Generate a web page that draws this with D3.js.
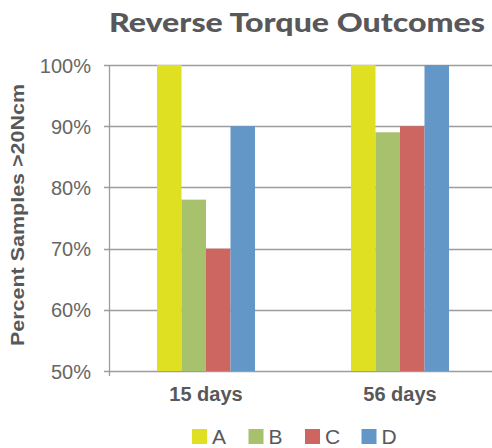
<!DOCTYPE html>
<html>
<head>
<meta charset="utf-8">
<style>
  body { margin: 0; background: #fff; }
  text { font-family: "Liberation Sans", Arial, sans-serif; }
</style>
</head>
<body>
<div id="chart"></div>
<script src="https://d3js.org/d3.v7.min.js"></script>
<script>
var groups = ["15 days", "56 days"];
var series = ["A", "B", "C", "D"];
var colors = ["#dfe022", "#a8c16c", "#cd6660", "#6297c8"];
var values = {
  "15 days": [100, 78, 70, 90],
  "56 days": [100, 89, 90, 100]
};
var yTicks = [50, 60, 70, 80, 90, 100];

var W = 492, H = 448;
var plotLeft = 109, plotRight = 497, plotTop = 65, plotBottom = 371;

var svg = d3.select("#chart").append("svg")
    .attr("width", W)
    .attr("height", H);

var x0 = d3.scaleBand().domain(groups).range([plotLeft, plotRight]).padding(0);
var x1 = d3.scaleBand().domain(series).range([0, x0.bandwidth()])
    .paddingInner(0).paddingOuter(1.96);
var y = d3.scaleLinear().domain([50, 100]).range([plotBottom, plotTop]);
var color = d3.scaleOrdinal(series, colors);

// title
svg.append("text")
    .attr("x", 297)
    .attr("y", 32)
    .attr("text-anchor", "middle")
    .attr("textLength", 376)
    .attr("lengthAdjust", "spacingAndGlyphs")
    .style("font-family", "Lato, 'Open Sans', sans-serif")
    .style("font-weight", "900")
    .style("font-size", "26px")
    .style("fill", "#58585a")
    .text("Reverse Torque Outcomes");

// gridlines
svg.append("g")
  .selectAll("line")
  .data(yTicks)
  .enter()
  .append("line")
    .attr("x1", plotLeft - 5)
    .attr("x2", W)
    .attr("y1", function(d) { return Math.round(y(d)) + 0.5; })
    .attr("y2", function(d) { return Math.round(y(d)) + 0.5; })
    .style("stroke", "#9d9d9d")
    .style("stroke-width", 1.3);

// y axis line
svg.append("line")
    .attr("x1", plotLeft + 0.5).attr("x2", plotLeft + 0.5)
    .attr("y1", plotTop).attr("y2", plotBottom + 5)
    .style("stroke", "#9d9d9d")
    .style("stroke-width", 1.3);

// y tick labels
svg.append("g")
  .selectAll("text")
  .data(yTicks)
  .enter()
  .append("text")
    .attr("x", 91)
    .attr("y", function(d) { return y(d) + 7.5; })
    .attr("text-anchor", "end")
    .style("font-size", "20px")
    .style("fill", "#666666")
    .text(function(d) { return d + "%"; });

// y axis title
svg.append("text")
    .attr("transform", "translate(24,215) rotate(-90)")
    .attr("text-anchor", "middle")
    .attr("textLength", 262)
    .attr("lengthAdjust", "spacingAndGlyphs")
    .style("font-size", "19px")
    .style("font-weight", "bold")
    .style("fill", "#58585a")
    .text("Percent Samples >20Ncm");

// bars
svg.append("g")
  .selectAll("g")
  .data(groups)
  .enter()
  .append("g")
    .attr("transform", function(g) { return "translate(" + x0(g) + ",0)"; })
  .selectAll("rect")
  .data(function(g) { return series.map(function(s, i) { return {s: s, v: values[g][i]}; }); })
  .enter()
  .append("rect")
    .attr("x", function(d) { return x1(d.s); })
    .attr("y", function(d) { return y(d.v); })
    .attr("width", x1.bandwidth())
    .attr("height", function(d) { return plotBottom - y(d.v); })
    .style("fill", function(d) { return color(d.s); });

// x labels
svg.append("g")
  .selectAll("text")
  .data(groups)
  .enter()
  .append("text")
    .attr("x", function(g) { return x0(g) + x0.bandwidth() / 2; })
    .attr("y", 401)
    .attr("text-anchor", "middle")
    .style("font-size", "20px")
    .style("font-weight", "bold")
    .style("fill", "#58585a")
    .text(function(g) { return g; });

// legend
var legend = svg.append("g")
  .selectAll("g")
  .data(series)
  .enter()
  .append("g")
    .attr("transform", function(d, i) { return "translate(" + (192 + i * 56.5) + ",429)"; });

legend.append("rect")
    .attr("width", 15)
    .attr("height", 15)
    .style("fill", function(d) { return color(d); });

legend.append("text")
    .attr("x", 20)
    .attr("y", 15)
    .style("font-size", "21px")
    .style("fill", "#58585a")
    .text(function(d) { return d; });
</script>
</body>
</html>
